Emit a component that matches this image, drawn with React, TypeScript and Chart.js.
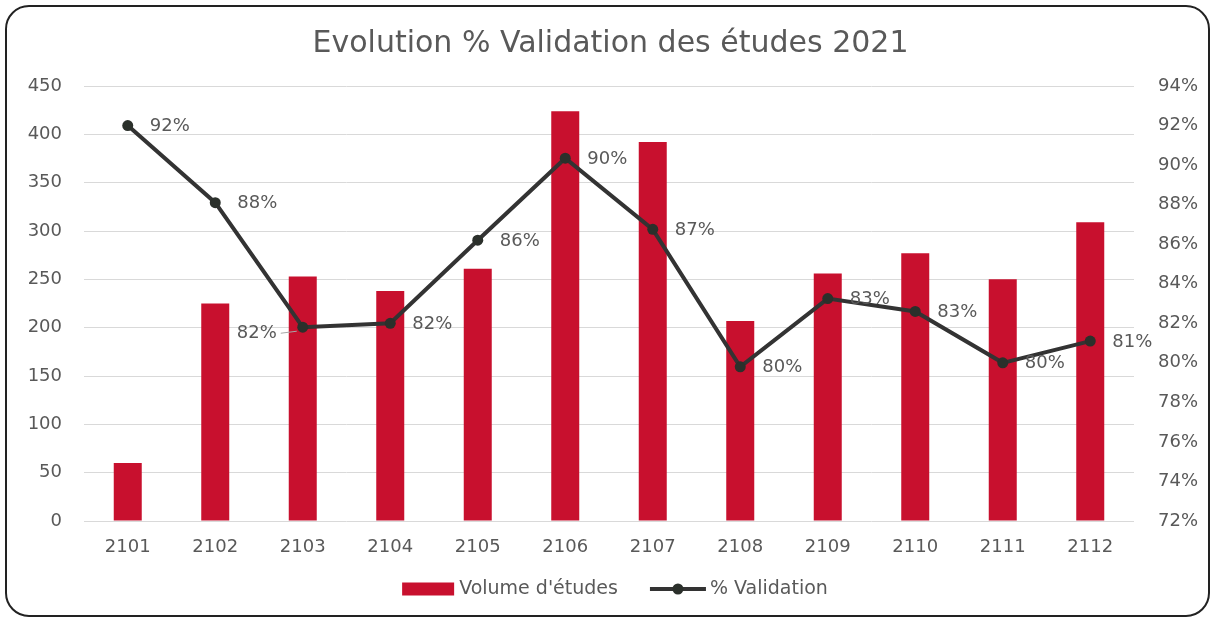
import React, { useEffect, useRef } from 'react';
import { Chart, registerables } from 'chart.js';

Chart.register(...registerables);

// ---- Data ----
const categories = ['2101', '2102', '2103', '2104', '2105', '2106', '2107', '2108', '2109', '2110', '2111', '2112'];
const volumes = [60, 225, 253, 238, 261, 424, 392, 207, 256, 277, 250, 309];
const validation = [92.0, 88.1, 81.8, 82.0, 86.2, 90.35, 86.75, 79.8, 83.25, 82.6, 80.0, 81.1];
const seriesNames = ["Volume d'études", '% Validation'];
const chartTitle = 'Evolution % Validation des études 2021';
const leftAxis = { min: 0, max: 450, step: 50 };
const rightAxis = { min: 72, max: 94, step: 2 };

// ---- Styles ----
const FONT = '"DejaVu Sans", "Open Sans", sans-serif';
const TEXT = '#595959';
const BAR = '#C8102E';
const LINE = '#333333';
const MARKER = '#2b302b';
const GRID = '#d9d9d9';

const pctLabels = {
  id: 'pctLabels',
  afterDatasetsDraw(chart: any) {
    const meta = chart.getDatasetMeta(1);
    const ctx = chart.ctx;
    ctx.save();
    ctx.font = `18px ${FONT}`;
    ctx.fillStyle = TEXT;
    ctx.textBaseline = 'middle';
    meta.data.forEach((pt: any, i: number) => {
      const txt = Math.round(validation[i]) + '%';
      if (i === 2) {
        ctx.textAlign = 'right';
        ctx.fillText(txt, pt.x - 26, pt.y + 6);
        ctx.strokeStyle = '#a6a6a6';
        ctx.lineWidth = 1;
        ctx.beginPath();
        ctx.moveTo(pt.x - 22, pt.y + 6);
        ctx.lineTo(pt.x - 6, pt.y + 4);
        ctx.stroke();
      } else {
        ctx.textAlign = 'left';
        ctx.fillText(txt, pt.x + 22, pt.y + 1);
      }
    });
    ctx.restore();
  },
};

// Excel-style legend drawn below the axis (swatch + text, centred)
const excelLegend = {
  id: 'excelLegend',
  afterDraw(chart: any) {
    const ctx = chart.ctx;
    const ds = chart.data.datasets;
    const cy = 589;
    const centerX = 615;
    ctx.save();
    ctx.font = `19px ${FONT}`;
    ctx.textBaseline = 'middle';
    ctx.textAlign = 'left';
    const w1 = ctx.measureText(ds[0].label).width;
    const w2 = ctx.measureText(ds[1].label).width;
    const sw1 = 52, g1 = 5, gap = 32, sw2 = 56, g2 = 4;
    const total = sw1 + g1 + w1 + gap + sw2 + g2 + w2;
    let x = centerX - total / 2;
    // bar swatch
    ctx.fillStyle = ds[0].backgroundColor;
    ctx.fillRect(x, cy - 6.5, sw1, 13);
    x += sw1 + g1;
    ctx.fillStyle = TEXT;
    ctx.fillText(ds[0].label, x, cy);
    x += w1 + gap;
    // line swatch
    ctx.strokeStyle = ds[1].borderColor;
    ctx.lineWidth = 4;
    ctx.beginPath();
    ctx.moveTo(x, cy);
    ctx.lineTo(x + sw2, cy);
    ctx.stroke();
    ctx.fillStyle = ds[1].pointBackgroundColor;
    ctx.beginPath();
    ctx.arc(x + sw2 / 2, cy, 5.5, 0, Math.PI * 2);
    ctx.fill();
    x += sw2 + g2;
    ctx.fillStyle = TEXT;
    ctx.fillText(ds[1].label, x, cy);
    ctx.restore();
  },
};

export default function App() {
  const ref = useRef<HTMLCanvasElement>(null);

  useEffect(() => {
    const chart = new Chart(ref.current!, {
      type: 'bar',
      data: {
        labels: categories,
        datasets: [
          {
            type: 'bar',
            label: seriesNames[0],
            data: volumes,
            backgroundColor: BAR,
            yAxisID: 'y',
            barPercentage: 0.32,
            categoryPercentage: 1,
            order: 1,
          } as any,
          {
            type: 'line',
            label: seriesNames[1],
            data: validation,
            yAxisID: 'y1',
            borderColor: LINE,
            borderWidth: 4,
            pointRadius: 5.5,
            pointBackgroundColor: MARKER,
            pointBorderColor: MARKER,
            pointBorderWidth: 0,
            tension: 0,
            order: 0,
          } as any,
        ],
      },
      options: {
        responsive: false,
        animation: false,
        layout: { padding: { left: 8, right: 0, top: 0, bottom: 60 } },
        plugins: {
          title: {
            display: true,
            text: chartTitle,
            color: TEXT,
            font: { family: FONT, size: 30, weight: 'normal' },
            padding: { top: 26, bottom: 24 },
          },
          legend: { display: false },
          tooltip: { enabled: false },
        },
        scales: {
          x: {
            grid: { display: false, drawTicks: false },
            border: { display: false },
            ticks: { color: TEXT, font: { family: FONT, size: 18 }, padding: 16 },
            afterFit: (s: any) => {
              s.height = 38;
            },
          },
          y: {
            position: 'left',
            min: leftAxis.min,
            max: leftAxis.max,
            ticks: { stepSize: leftAxis.step, color: TEXT, font: { family: FONT, size: 18 }, padding: 22 },
            grid: { color: GRID, lineWidth: 1, drawTicks: false },
            border: { display: false },
            afterFit: (s: any) => {
              s.width = 76;
            },
          },
          y1: {
            position: 'right',
            min: rightAxis.min,
            max: rightAxis.max,
            ticks: {
              stepSize: rightAxis.step,
              color: TEXT,
              font: { family: FONT, size: 18 },
              padding: 24,
              callback: (v: any) => v + '%',
            },
            grid: { display: false, drawTicks: false },
            border: { display: false },
            afterFit: (s: any) => {
              s.width = 79;
            },
          },
        },
      } as any,
      plugins: [pctLabels, excelLegend],
    });
    return () => chart.destroy();
  }, []);

  return (
    <div style={{ position: 'fixed', left: 0, top: 0, width: 1213, height: 619, background: '#fff' }}>
      <canvas ref={ref} width={1213} height={619} style={{ position: 'absolute', left: 0, top: 0 }} />
      <div
        style={{
          position: 'absolute',
          left: 5,
          top: 5,
          width: 1205,
          height: 612,
          border: '2.5px solid #222',
          borderRadius: 24,
          boxSizing: 'border-box',
          pointerEvents: 'none',
        }}
      />
    </div>
  );
}
